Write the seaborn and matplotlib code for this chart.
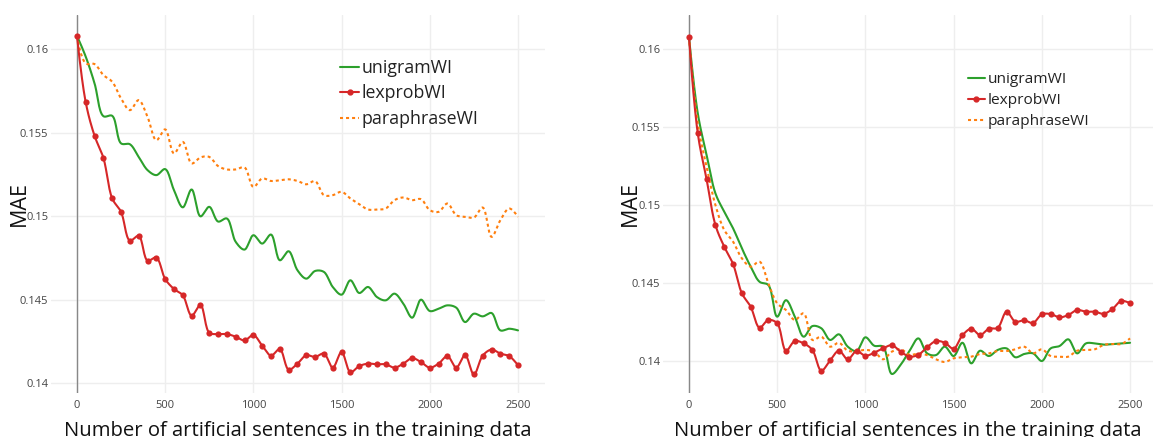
import numpy as np
import pandas as pd
import matplotlib
matplotlib.use("Agg")
import matplotlib.pyplot as plt
from matplotlib.lines import Line2D
import seaborn as sns

sns.set_theme(style="white")
plt.rcParams['font.family'] = ['Open Sans', 'DejaVu Sans']

# ---------------- data ----------------
sentences = [0, 50, 100, 150, 200, 250, 300, 350, 400, 450, 500, 550, 600, 650, 700,
             750, 800, 850, 900, 950, 1000, 1050, 1100, 1150, 1200, 1250, 1300, 1350,
             1400, 1450, 1500, 1550, 1600, 1650, 1700, 1750, 1800, 1850, 1900, 1950,
             2000, 2050, 2100, 2150, 2200, 2250, 2300, 2350, 2400, 2450, 2500]

left_unigram = [0.1608, 0.15954, 0.15794, 0.15598, 0.1560, 0.15435, 0.1543, 0.15354, 0.15275,
                0.15245, 0.15281, 0.15155, 0.15052, 0.15159, 0.14998, 0.15055, 0.14967,
                0.14985, 0.14845, 0.14799, 0.14885, 0.14835, 0.14889, 0.14735, 0.14789,
                0.14675, 0.14625, 0.14671, 0.14665, 0.14575, 0.14529, 0.14615, 0.14539,
                0.14575, 0.14515, 0.14495, 0.14535, 0.14475, 0.14391, 0.14499, 0.14431,
                0.14445, 0.14465, 0.14451, 0.14365, 0.14415, 0.14399, 0.14419, 0.14315,
                0.14325, 0.14315]
left_lexprob = [0.1608, 0.1568, 0.1548, 0.15348, 0.15105, 0.15025, 0.14853, 0.14881, 0.14733,
                0.14751, 0.14623, 0.14563, 0.14525, 0.14403, 0.14467, 0.14301, 0.14293,
                0.14293, 0.14277, 0.14255, 0.14287, 0.14224, 0.14164, 0.14203, 0.1408,
                0.14116, 0.14166, 0.14156, 0.14176, 0.14092, 0.14185, 0.14065, 0.14101,
                0.14116, 0.14112, 0.14112, 0.14092, 0.14116, 0.14149, 0.14125, 0.14092,
                0.14116, 0.14161, 0.14092, 0.14167, 0.14051, 0.14164, 0.14200, 0.14176,
                0.14161, 0.14106]
left_paraphrase = [0.1608, 0.15914, 0.1591, 0.15844, 0.15804, 0.15704, 0.15634, 0.15694, 0.15594,
                   0.15454, 0.15519, 0.15375, 0.15444, 0.15315, 0.15351, 0.15354, 0.15299,
                   0.15279, 0.15279, 0.15291, 0.15174, 0.15225, 0.1521, 0.15214, 0.1522,
                   0.1521, 0.1519, 0.15209, 0.15125, 0.15125, 0.15145, 0.15105, 0.15071,
                   0.15039, 0.15039, 0.15045, 0.15095, 0.15111, 0.15095, 0.15101, 0.15035,
                   0.15025, 0.15075, 0.15005, 0.14995, 0.14991, 0.15051, 0.14875, 0.14975,
                   0.15045, 0.14995]

right_unigram = [0.1608, 0.15588, 0.15321, 0.15075, 0.14957, 0.14851, 0.14722, 0.14605, 0.14508,
                 0.14487, 0.14284, 0.1439, 0.14284, 0.14156, 0.14224, 0.1421, 0.14135,
                 0.14171, 0.14092, 0.14064, 0.14152, 0.14098, 0.14092, 0.13917, 0.13976,
                 0.14065, 0.14145, 0.14049, 0.14038, 0.14092, 0.14032, 0.14117, 0.13985,
                 0.14066, 0.14032, 0.14071, 0.14081, 0.14024, 0.14045, 0.14049, 0.14,
                 0.14081, 0.14096, 0.14139, 0.14049, 0.14113, 0.14113, 0.14105, 0.14109,
                 0.14113, 0.14117]
right_lexprob = [0.1608, 0.1546, 0.15165, 0.14872, 0.14733, 0.14622, 0.14434, 0.14348, 0.14214,
                 0.14263, 0.14242, 0.14066, 0.14128, 0.14113, 0.1407, 0.13938, 0.14004,
                 0.14066, 0.14011, 0.14064, 0.14034, 0.14053, 0.14081, 0.14101, 0.1406,
                 0.14028, 0.1404, 0.14088, 0.14128, 0.14117, 0.14079, 0.14165, 0.14207,
                 0.14167, 0.14207, 0.14213, 0.14316, 0.14252, 0.14261, 0.14244, 0.14299,
                 0.14301, 0.1428, 0.14295, 0.14327, 0.14316, 0.14316, 0.14303, 0.14333,
                 0.14385, 0.1437]
right_paraphrase = [0.1608, 0.15524, 0.15246, 0.15, 0.1484, 0.14765, 0.14658, 0.14605, 0.14637,
                    0.14498, 0.1437, 0.14327, 0.14263, 0.14306, 0.14135, 0.14156, 0.14092,
                    0.14117, 0.14066, 0.14064, 0.14071, 0.1406, 0.14011, 0.1406, 0.14076,
                    0.1404, 0.14047, 0.14038, 0.14011, 0.13994, 0.14017, 0.14024, 0.14028,
                    0.14045, 0.14049, 0.14064, 0.14064, 0.14075, 0.14092, 0.14049, 0.14075,
                    0.14032, 0.14028, 0.14028, 0.14066, 0.14071, 0.14075, 0.14103, 0.14109,
                    0.14109, 0.14145]

series_names = ["unigramWI", "lexprobWI", "paraphraseWI"]
x_ticks = [0, 500, 1000, 1500, 2000, 2500]
y_ticks = [0.14, 0.145, 0.15, 0.155, 0.16]
y_tick_labels = ["0.14", "0.145", "0.15", "0.155", "0.16"]
x_title = "Number of artificial sentences in the training data"
y_title = "MAE"

# ---------------- style ----------------
GREEN, RED, ORANGE = "#2ca02c", "#d62728", "#ff7f0e"
W, H = 1153, 437
fig = plt.figure(figsize=(W / 100, H / 100), dpi=100)


def px_axes(l, r, t, b):
    return fig.add_axes([l / W, 1 - b / H, (r - l) / W, (b - t) / H])


def plotly_spline(ax, xs, ys, smoothing=1.0, nseg=16):
    pts = ax.transData.transform(np.column_stack([xs, ys]))
    n = len(pts)
    tang = []
    for i in range(1, n - 1):
        prev, this, nxt = pts[i - 1], pts[i], pts[i + 1]
        d1 = prev - this
        d2 = nxt - this
        d1a = (d1 @ d1) ** 0.25
        d2a = (d2 @ d2) ** 0.25
        num = (d2a * d2a * d1 - d1a * d1a * d2) * smoothing
        den1 = 3 * d2a * (d1a + d2a)
        den2 = 3 * d1a * (d1a + d2a)
        t0 = this + (num / den1 if den1 else 0)
        t1 = this - (num / den2 if den2 else 0)
        tang.append((t0, t1))
    t = np.linspace(0, 1, nseg)[:, None]
    out = [pts[0][None, :]]
    p0, c, p1 = pts[0], tang[0][0], pts[1]
    out.append(((1 - t) ** 2) * p0 + 2 * (1 - t) * t * c + t ** 2 * p1)
    for i in range(2, n - 1):
        p0, c1, c2, p1 = pts[i - 1], tang[i - 2][1], tang[i - 1][0], pts[i]
        out.append(((1 - t) ** 3) * p0 + 3 * ((1 - t) ** 2) * t * c1 +
                   3 * (1 - t) * t ** 2 * c2 + t ** 3 * p1)
    p0, c, p1 = pts[n - 2], tang[n - 3][1], pts[n - 1]
    out.append(((1 - t) ** 2) * p0 + 2 * (1 - t) * t * c + t ** 2 * p1)
    curve = np.vstack(out)
    data = ax.transData.inverted().transform(curve)
    return data[:, 0], data[:, 1]


DOT = (0, (1.45, 1.45))


def draw_panel(ax, uni, lex, para, xlim, ylim, ylabel_x, legend_xy, legend_fs,
               handlelength, textpad, labelspacing):
    ax.set_xlim(*xlim)
    ax.set_ylim(*ylim)
    ax.set_facecolor("white")
    for s in ax.spines.values():
        s.set_visible(False)
    ax.set_xticks(x_ticks)
    ax.set_xticklabels([str(v) for v in x_ticks])
    ax.set_yticks(y_ticks)
    ax.set_yticklabels(y_tick_labels)
    ax.tick_params(axis="both", length=0, labelsize=8.0, labelcolor="#444444")
    ax.tick_params(axis="x", pad=5)
    ax.tick_params(axis="y", pad=2)
    ax.grid(True, color="#eeeeee", lw=1)
    ax.set_axisbelow(True)
    ax.axvline(0, color="#888888", lw=1, zorder=1)

    for vals, col, ls in [(uni, GREEN, "-"), (para, ORANGE, DOT), (lex, RED, "-")]:
        cx, cy = plotly_spline(ax, sentences, vals)
        df = pd.DataFrame({"x": cx, "y": cy})
        sns.lineplot(data=df, x="x", y="y", ax=ax, color=col, lw=1.5, sort=False,
                     estimator=None, linestyle=ls, zorder=3)
    sns.scatterplot(x=sentences, y=lex, ax=ax, color=RED, s=20, linewidth=0, zorder=4)
    ax.set_xlim(*xlim)
    ax.set_ylim(*ylim)
    ax.set_xlabel(x_title, fontsize=14.6, color="#111111", va="baseline")
    ax.xaxis.set_label_coords(0.5, -(436 - 393) / 378)
    ax.set_ylabel(y_title, fontsize=15.5, color="#111111", va="center")
    ax.yaxis.set_label_coords(ylabel_x, 0.5)

    handles = [Line2D([], [], color=GREEN, lw=1.5),
               Line2D([], [], color=RED, lw=1.5, marker="o", markersize=3.5),
               Line2D([], [], color=ORANGE, lw=1.5, linestyle=DOT)]
    ax.legend(handles, series_names, loc="upper left", frameon=False,
              bbox_to_anchor=(legend_xy[0] / W, 1 - legend_xy[1] / H),
              bbox_transform=fig.transFigure, fontsize=legend_fs,
              handlelength=handlelength, handletextpad=textpad, labelspacing=labelspacing,
              borderpad=0, borderaxespad=0, labelcolor="#222222")


ax1 = px_axes(51, 545, 15, 393)
draw_panel(ax1, left_unigram, left_lexprob, left_paraphrase,
           (-147, 2653), (0.1394, 0.16204), (19 - 51) / 494, (340, 59), 12.8,
           1.07, 0.12, 0.42)

ax2 = px_axes(663, 1153, 15, 393)
draw_panel(ax2, right_unigram, right_lexprob, right_paraphrase,
           (-147, 2630), (0.13795, 0.16218), (630 - 663) / 490, (968, 72), 11.1,
           1.1, 0.2, 0.4)

fig.savefig("out.png", dpi=100, facecolor="white")
